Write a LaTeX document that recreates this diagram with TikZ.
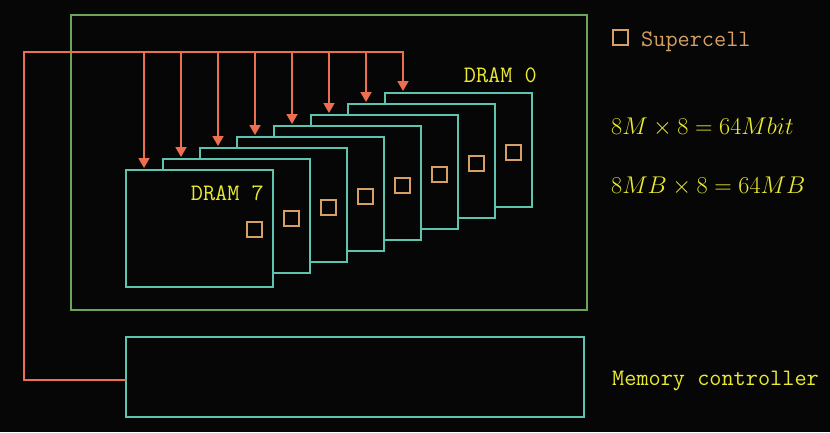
\RequirePackage{fix-cm}
\documentclass[tikz,border=0pt]{standalone}
\usepackage{fontspec}
\usetikzlibrary{arrows.meta}
\definecolor{bg}{HTML}{060606}
\definecolor{teal}{HTML}{5EC4B0}
\definecolor{frameg}{HTML}{6EA35A}
\definecolor{busor}{HTML}{EE6E50}
\definecolor{tan}{HTML}{D6A064}
\definecolor{yel}{HTML}{EAEA30}
\tikzset{
  dram/.style={draw=teal, fill=bg, line width=1.8pt, inner sep=0pt, outer sep=0pt, minimum width=147pt},
  cell/.style={draw=tan, line width=1.5pt, inner sep=0pt, outer sep=0pt, minimum size=15pt},
  frame/.style={draw=frameg, line width=1.8pt, inner sep=0pt, outer sep=0pt},
  ctrl/.style={draw=teal, line width=1.8pt, inner sep=0pt, outer sep=0pt},
  bus/.style={draw=busor, line width=1.8pt},
  busarrow/.style={bus, -{Triangle[width=11pt,length=10pt]}, shorten >=2pt},
  lbl/.style={text=yel, inner sep=0pt, font=\fontsize{23.6}{28}\selectfont\ttfamily},
  leg/.style={text=tan, inner sep=0pt, font=\fontsize{23.6}{28}\selectfont\ttfamily},
  mth/.style={text=yel, inner sep=0pt, font=\fontsize{24.2}{29}\selectfont}
}
\begin{document}
\begin{tikzpicture}[x=1pt,y=-1pt]
\fill[bg] (0,0) rectangle (830,432);
\useasboundingbox (0,0) rectangle (830,432);

\node[frame, anchor=north west, minimum width=516pt, minimum height=295pt] (frame) at (71,15) {};
\node[ctrl, anchor=north west, minimum width=458pt, minimum height=80pt] (mc) at (126,337) {};

% DRAM chips, back (0) to front (7)
\foreach \k in {0,...,7} {
  \pgfmathsetmacro\lx{385-37*\k}
  \pgfmathsetmacro\ty{93+11*\k}
  \ifnum\k=7
    \node[dram, anchor=north west, minimum height=117pt] (d\k) at (\lx,\ty) {};
  \else
    \node[dram, anchor=north west, minimum height=114pt] (d\k) at (\lx,\ty) {};
  \fi
  \node[cell] (s\k) at ([xshift=-18.5pt, yshift=-59.5pt]d\k.north east) {};
  \coordinate (b\k) at (\lx+18,52);
}

% bus
\coordinate (bend) at (24,52);
\coordinate (corner) at (24,380);
\draw[busarrow] (corner -| mc.west) -- (corner) -- (bend) -- (b0) -- (b0 |- d0.north);
\foreach \k in {1,...,7} {
  \draw[busarrow] (b\k) -- (b\k |- d\k.north);
}

% labels
\node[lbl, anchor=base east] (l0) at (537,82) {DRAM 0};
\node[lbl, anchor=base east] (l7) at (264,200) {DRAM 7};

\node[cell] (legcell) at (620.5,37.5) {};
\node[leg, anchor=base west] (legtxt) at (641,46) {Supercell};

\node[mth, anchor=base west] (f1) at (611,134) {$8M\times 8=64Mbit$};
\node[mth, anchor=base west] (f2) at (611,193) {$8MB\times 8=64MB$};

\node[lbl, anchor=base west] (mctxt) at (612,385) {Memory controller};
\end{tikzpicture}
\end{document}
